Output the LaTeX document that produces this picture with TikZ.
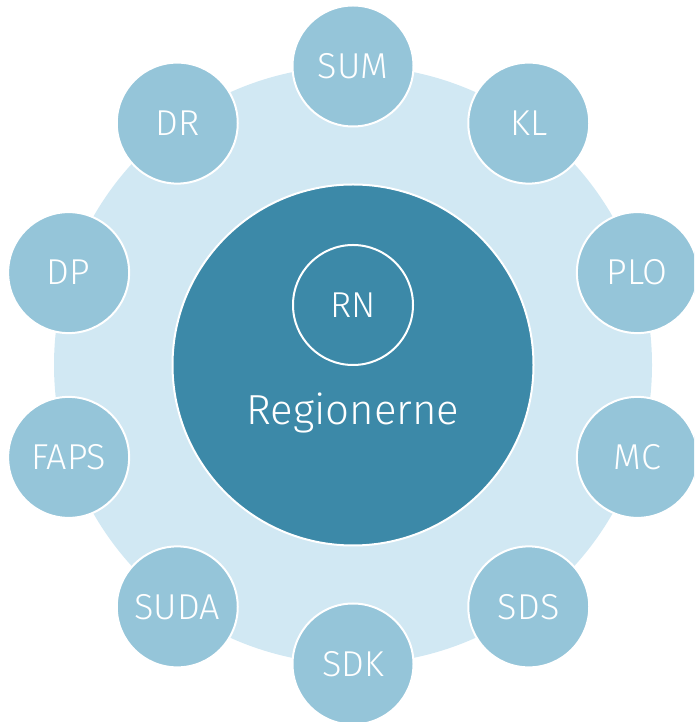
\documentclass[tikz,border=0pt]{standalone}
\usepackage{fontspec}
\usetikzlibrary{calc}
\setmainfont{Fira Sans}[UprightFont=* Light]
\definecolor{ringlight}{HTML}{D1E8F3}
\definecolor{satblue}{HTML}{95C5D9}
\definecolor{coreblue}{HTML}{3C89A8}
\begin{document}
\begin{tikzpicture}[x=1pt,y=1pt,
  sat/.style={circle,fill=satblue,draw=white,line width=2pt,minimum size=121pt,inner sep=0pt,text=white,font=\fontsize{36}{40}\selectfont},
  core/.style={circle,fill=coreblue,draw=white,line width=2pt,minimum size=361pt,inner sep=0pt},
  rn/.style={circle,draw=white,line width=2pt,minimum size=120pt,inner sep=0pt,text=white,font=\fontsize{36}{40}\selectfont}]
\useasboundingbox (0,0) rectangle (694,722);
\begin{scope}
\clip (0,0) rectangle (694,722);
\node[circle,fill=ringlight,minimum size=598pt,inner sep=0pt] (ring) at (353,357) {};
\node[core] (core) at (353,357) {};
\node[rn] (rn) at (353,417) {RN};
\node[anchor=base,text=white,font=\fontsize{42}{46}\selectfont] (reg) at (353,297) {Regionerne};
\foreach \lab [count=\i from 0] in {SUM,KL,PLO,MC,SDS,SDK,SUDA,FAPS,DP,DR}{
  \pgfmathsetmacro{\ang}{90-36*\i}
  \node[sat] (s\i) at ($(353,357)+(\ang:299)$) {\lab};
}
\end{scope}
\end{tikzpicture}
\end{document}
